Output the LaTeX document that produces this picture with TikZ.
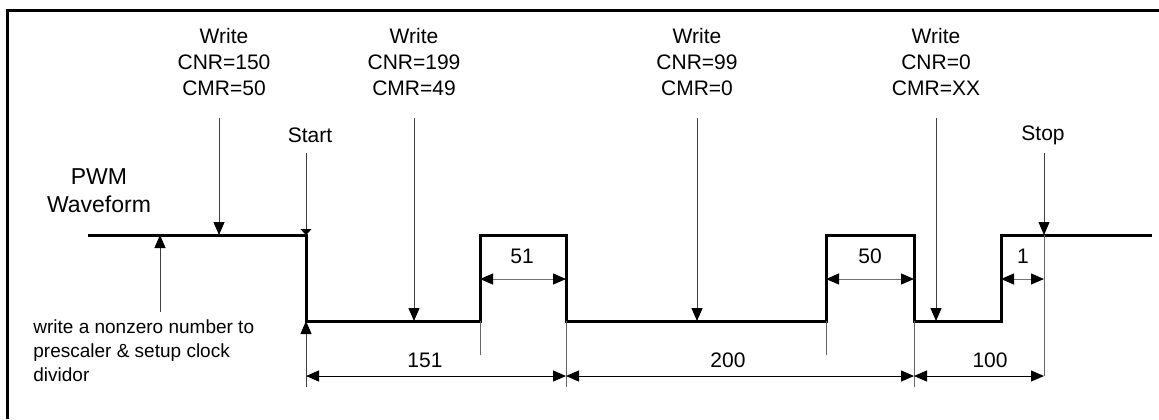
\documentclass[tikz,border=0pt]{standalone}
\usepackage{fontspec}
\setmainfont{Liberation Sans}
\usetikzlibrary{arrows.meta}

\begin{document}
\begin{tikzpicture}[x=0.5pt, y=-0.5pt,
  wave/.style={line width=1.5pt, line join=miter},
  event/.style={draw=black!75, line width=0.5pt, -{Triangle[length=6.5pt,width=5.5pt,color=black]}},
  flat/.style={draw=black!75, line width=0.5pt, -{Triangle[length=3pt,width=5.5pt,color=black]}},
  dim/.style={line width=0.5pt, {Triangle[length=6.5pt,width=5.5pt]}-{Triangle[length=6.5pt,width=5.5pt]}},
  inner/.style={dim, draw=black!55, {Triangle[length=6.5pt,width=5.5pt,color=black]}-{Triangle[length=6.5pt,width=5.5pt,color=black]}},
  ext/.style={draw=black!60, line width=0.5pt},
  lab/.style={font=\fontsize{10.5}{13}\selectfont, align=center, inner sep=0pt},
  note/.style={font=\fontsize{9.5}{12}\selectfont, align=left, inner sep=0pt}]
  \useasboundingbox (0,0) rectangle (1159,419);
  \draw[line width=1.5pt] (7,419) -- (7,10) -- (1159,10);

  % waveform corners
  \coordinate (p0) at (88,235);
  \coordinate (p1) at (306,235);
  \coordinate (p2) at (306,321);
  \coordinate (p3) at (480,321);
  \coordinate (p4) at (480,235);
  \coordinate (p5) at (566,235);
  \coordinate (p6) at (566,321);
  \coordinate (p7) at (826,321);
  \coordinate (p8) at (826,235);
  \coordinate (p9) at (914,235);
  \coordinate (p10) at (914,321);
  \coordinate (p11) at (1001,321);
  \coordinate (p12) at (1001,235);
  \coordinate (p13) at (1152,235);
  \draw[wave] (p0) foreach \i in {1,...,13} { -- (p\i) };

  \node[lab, font=\fontsize{11.5}{14}\selectfont] (pwm) at (99,191) {PWM\\Waveform};

  % writes to the registers
  \node[lab] (w1) at (224,62) {Write\\CNR=150\\CMR=50};
  \node[lab] (w2) at (414,62) {Write\\CNR=199\\CMR=49};
  \node[lab] (w3) at (697,62) {Write\\CNR=99\\CMR=0};
  \node[lab] (w4) at (936,62) {Write\\CNR=0\\CMR=XX};
  \coordinate (t1) at (219,118);
  \coordinate (t2) at (414,118);
  \coordinate (t3) at (697,118);
  \coordinate (t4) at (936,118);
  \draw[event] (t1) -- (t1 |- p1);
  \draw[event] (t2) -- (t2 |- p2);
  \draw[event] (t3) -- (t3 |- p2);
  \draw[event] (t4) -- (t4 |- p2);

  % start / stop
  \node[lab] (start) at (310,135) {Start};
  \node[lab] (stop) at (1043,135) {Stop};
  \coordinate (s0) at (306,153);
  \coordinate (s1) at (1044,153);
  \coordinate (s2) at (1044,376);
  \draw[flat] (s0) -- (p1);
  \draw[event] (s1) -- (s1 |- p13);
  \draw[ext] (s1 |- p13) -- (s2);

  % prescaler
  \node[note, anchor=north west] (pre) at (33,319) {write a nonzero number to\\prescaler \& setup clock\\dividor};
  \coordinate (q0) at (160,312);
  \draw[event] (q0) -- (q0 |- p0);

  % extension lines
  \coordinate (e0) at (306,387);
  \coordinate (e1) at (480,355);
  \coordinate (e2) at (566,387);
  \coordinate (e3) at (826,355);
  \coordinate (e4) at (914,387);
  \draw[event] (e0) -- (p2);
  \draw[ext] (p3) -- (e1);
  \draw[ext] (p6) -- (e2);
  \draw[ext] (p7) -- (e3);
  \draw[ext] (p10) -- (e4);

  % periods
  \draw[dim] (306,376) -- (566,376);
  \draw[dim] (566,376) -- (914,376);
  \draw[dim] (914,376) -- (s2);
  \node[lab] (n151) at (425,360) {151};
  \node[lab] (n200) at (728,360) {200};
  \node[lab] (n100) at (990,360) {100};

  % duty
  \draw[inner] (480,279) -- (566,279);
  \draw[inner] (826,279) -- (914,279);
  \draw[inner] (1001,279) -- (1044,279);
  \node[lab] (n51) at (522,256) {51};
  \node[lab] (n50) at (870,256) {50};
  \node[lab] (n1) at (1023,256) {1};
\end{tikzpicture}
\end{document}
